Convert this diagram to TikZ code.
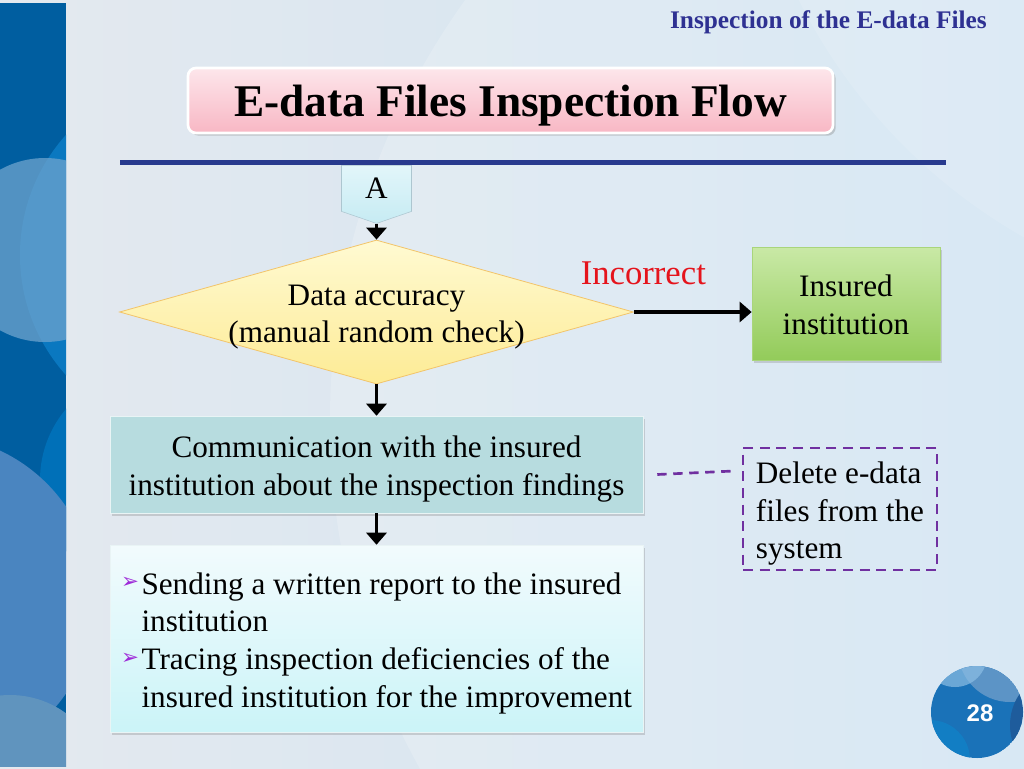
\documentclass[tikz,border=0pt]{standalone}
\usepackage{fontspec}
\setmainfont{Liberation Serif}
\newfontfamily\symfont{DejaVu Sans}
\newfontfamily\numfont{Liberation Sans}
\usetikzlibrary{positioning, calc, shapes.geometric, shapes.symbols, arrows.meta, shadows}
\definecolor{headnavy}{HTML}{2E3192}
\definecolor{rulenavy}{HTML}{283A8E}
\definecolor{titletop}{HTML}{FDE6EB}
\definecolor{titlebot}{HTML}{F8B7C4}
\definecolor{conntop}{HTML}{E2F6FA}
\definecolor{connbot}{HTML}{C6EBF3}
\definecolor{diatop}{HTML}{FFFAD2}
\definecolor{diabot}{HTML}{FDEB95}
\definecolor{diaedge}{HTML}{F2C46A}
\definecolor{greentop}{HTML}{C9E9A6}
\definecolor{greenbot}{HTML}{93CB5A}
\definecolor{commfill}{HTML}{B7DCDF}
\definecolor{listtop}{HTML}{F2FBFD}
\definecolor{listbot}{HTML}{CBF4F8}
\definecolor{wrongred}{HTML}{E5141C}
\definecolor{notepurple}{HTML}{7030A0}
\definecolor{bulpurple}{HTML}{9E2BD8}
\definecolor{bgleft}{HTML}{E4E9EF}
\definecolor{bgright}{HTML}{D0E4F2}
\newcommand{\bodyfont}{\fontsize{23.4}{28}\selectfont}
\newcommand{\bul}{\raisebox{4pt}{\textcolor{bulpurple}{\symfont\fontsize{16}{16}\selectfont ➢}}}
\newcommand{\lowered}[1]{\raisebox{-3.5pt}[\height][\depth]{#1}}
\tikzset{
    title box/.style={rectangle, rounded corners=6pt, draw=white, line width=2pt, top color=titletop, bottom color=titlebot, minimum width=483.75pt, minimum height=48.75pt, text depth=0pt, font=\fontsize{34}{40}\selectfont\bfseries, drop shadow={shadow xshift=2pt, shadow yshift=-2pt, opacity=0.35}},
    connector node/.style={signal, signal to=south, signal from=nowhere, signal pointer angle=142, draw=white!70!cyan!60!gray, line width=0.4pt, top color=conntop, bottom color=connbot, minimum width=52.5pt, minimum height=37.5pt, inner sep=0pt, font=\bodyfont},
    decision node/.style={diamond, draw=diaedge, line width=0.6pt, top color=diatop, bottom color=diabot, minimum width=385.5pt, minimum height=108pt, inner sep=0pt},
    flow box/.style={rectangle, draw=white!70!commfill, line width=0.4pt, minimum width=399.75pt, align=center, font=\bodyfont, drop shadow={shadow xshift=1.5pt, shadow yshift=-2pt, opacity=0.3}},
    result box/.style={rectangle, draw=greenbot!80!white, line width=0.5pt, top color=greentop, bottom color=greenbot, minimum width=141pt, minimum height=84.75pt, align=center, font=\bodyfont, drop shadow={shadow xshift=1.5pt, shadow yshift=-2pt, opacity=0.3}},
    note box/.style={rectangle, draw=notepurple, dash pattern=on 7.5pt off 5pt, line width=2pt, minimum width=145.5pt, minimum height=91.5pt, align=left, font=\bodyfont, inner xsep=6pt},
    flow arrow/.style={-{Triangle[length=9pt, width=15pt]}, line width=2.5pt, black},
    note line/.style={notepurple, dash pattern=on 7pt off 5pt, line width=2pt},
    wrong label/.style={text=wrongred, font=\fontsize{26}{30}\selectfont, inner sep=2pt},
}
\newcommand{\drawbackdrop}{
    \fill[left color=bgleft, right color=bgright] (0,0) rectangle (1024,768);
    \fill[white, opacity=0.18] (1050,420) circle (720);
    \fill[white, opacity=0.12] (1300,-250) circle (560);
    \begin{scope}
        \clip (0,3) rectangle (66,766);
        \fill[fill={rgb,255:red,0;green,94;blue,160}] (0,3) rectangle (66,766);
        \fill[fill={rgb,255:red,10;green,120;blue,192}] (200,255) circle (180);
        \fill[fill={rgb,255:red,110;green,164;blue,206}, opacity=0.75] (45,250) circle (92);
        \fill[fill={rgb,255:red,0;green,112;blue,184}] (150,480) circle (110);
        \fill[fill={rgb,255:red,74;green,133;blue,192}] (-70,600) circle (165);
        \fill[fill={rgb,255:red,96;green,148;blue,190}] (10,790) circle (95);
    \end{scope}
    \begin{scope}
        \clip (977,712) circle (46);
        \fill[fill={rgb,255:red,26;green,114;blue,184}] (977,712) circle (46);
        \fill[fill={rgb,255:red,92;green,148;blue,198}] (1010,650) circle (52);
        \fill[fill={rgb,255:red,140;green,190;blue,228}, opacity=0.7] (955,655) circle (32);
        \fill[fill={rgb,255:red,30;green,92;blue,156}] (1065,725) circle (55);
        \fill[fill={rgb,255:red,18;green,126;blue,196}] (930,760) circle (40);
    \end{scope}
}

\begin{document}
\begin{tikzpicture}[x=0.75pt, y=-0.75pt]
    \useasboundingbox (0,0) rectangle (1024,768);
    \drawbackdrop
    \node[anchor=center, text=white, font=\numfont\bfseries\fontsize{18}{18}\selectfont] (pg) at (980,713) {28};
    \node[anchor=base east, text=headnavy, font=\fontsize{19}{22}\selectfont\bfseries, inner sep=0pt] (hdr) at (987,28) {Inspection of the E-data Files};
    \node[title box] (title) at (510.5,100.5) {E-data Files Inspection Flow};
    \draw[rulenavy, line width=3.75pt] (120,162.5) -- (946,162.5);
    \node[connector node, anchor=north] (a) at (376.5,165) {A};
    \node[decision node, label={[align=center, font=\bodyfont, yshift=-4]center:Data accuracy\\(manual random check)}] (dec) at (376.5,312) {};
    \node[result box] (ins) at (846,303.5) {\lowered{\begin{tabular}{@{}c@{}}Insured\\institution\end{tabular}}};
    \node[flow box, fill=commfill, minimum height=72.75pt] (comm) at (376.5,464.5)
        {\lowered{\begin{tabular}{@{}c@{}}Communication with the insured\\institution about the inspection findings\end{tabular}}};
    \node[flow box, top color=listtop, bottom color=listbot, minimum height=140.25pt] (rep) at (376.5,638.5)
        {\fontsize{23.4}{28.3}\selectfont\lowered{\begin{tabular}{@{}l@{\hspace{2pt}}l@{}}
        \bul & Sending a written report to the insured\\
             & institution\\
        \bul & Tracing inspection deficiencies of the\\
             & insured institution for the improvement
        \end{tabular}}};
    \node[note box] (del) at (840,509) {\lowered{\begin{tabular}{@{}l@{}}Delete e-data\\files from the\\system\end{tabular}}};
    \draw[flow arrow] (a.south) -- (dec.north);
    \draw[flow arrow] (dec.east) -- node[wrong label, pos=0.08, above=17pt] (wrong) {Incorrect} (ins.west |- dec.east);
    \draw[flow arrow] (dec.south) -- (comm.north);
    \draw[flow arrow] (comm.south) -- (rep.north);
    \draw[note line] ([shift={(14,10)}]comm.east) -- ([shift={(-8,-38)}]del.west);
\end{tikzpicture}
\end{document}
